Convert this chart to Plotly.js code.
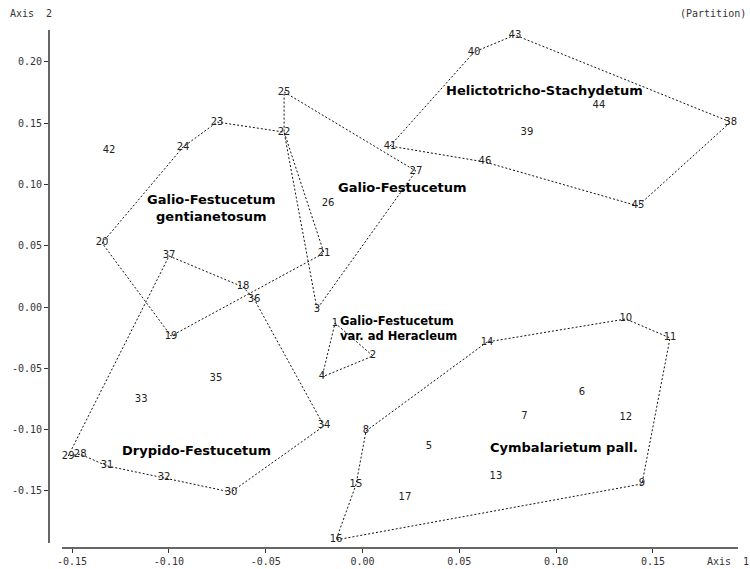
<!DOCTYPE html>
<html>
<head>
<meta charset="utf-8">
<script src="https://cdn.plot.ly/plotly-3.0.1.min.js"></script>
<style>html,body{margin:0;padding:0;background:#fff;}#chart{width:750px;height:569px;}</style>
</head>
<body>
<div id="chart"></div>
<script>
// Relevé numbers and their ordination scores
const releveIds = [1,2,3,4,5,6,7,8,9,10,11,12,13,14,15,16,17,18,19,20,21,22,23,24,25,26,27,28,29,30,31,32,33,34,35,36,37,38,39,40,41,42,43,44,45,46];
const axis1Scores = [-0.0142,0.0054,-0.0235,-0.0209,0.0343,0.1133,0.0836,0.0018,0.1443,0.1360,0.1588,0.1360,0.0689,0.0643,-0.0034,-0.0137,0.0219,-0.0617,-0.0989,-0.1345,-0.0199,-0.0405,-0.0751,-0.0927,-0.0405,-0.0178,0.0276,-0.1458,-0.1520,-0.0679,-0.1319,-0.1025,-0.1143,-0.0199,-0.0757,-0.0560,-0.0999,0.1901,0.0849,0.0576,0.0142,-0.1309,0.0787,0.1221,0.1422,0.0632];
const axis2Scores = [-0.0130,-0.0399,-0.0016,-0.0570,-0.1141,-0.0693,-0.0889,-0.1011,-0.1443,-0.0097,-0.0252,-0.0897,-0.1379,-0.0285,-0.1451,-0.1900,-0.1557,0.0164,-0.0236,0.0523,0.0441,0.1428,0.1510,0.1306,0.1755,0.0849,0.1110,-0.1200,-0.1216,-0.1510,-0.1296,-0.1394,-0.0757,-0.0970,-0.0586,0.0066,0.0417,0.1510,0.1428,0.2081,0.1314,0.1274,0.2220,0.1648,0.0825,0.1184];

// Partition outlines (relevé numbers, in drawing order)
const hullHelictotricho = [41,40,43,38,45,46,41];
const hullGalioFestucetum = [25,27,3,22,25];
const hullGentianetosum = [20,24,23,22,21,19,20];
const hullHeracleum = [1,2,4,1];
const hullDrypido = [29,37,18,36,34,30,32,31,28,29];
const hullCymbalarietum = [8,14,10,11,9,16,15,8];

// Community names and where they are written (data units)
const groupNames = ["Helictotricho-Stachydetum","Galio-Festucetum","Galio-Festucetum<br>gentianetosum","Galio-Festucetum<br>var. ad Heracleum","Drypido-Festucetum","Cymbalarietum pall."];
const groupX = [0.0942,0.0204,-0.0782,-0.0125,-0.0860,0.1040];
const groupY = [0.1770,0.0979,0.0808,-0.0172,-0.1167,-0.1143];

// Tick values and labels
const xTickVals = [-0.15,-0.10,-0.05,0.00,0.05,0.10,0.15];
const xTickText = ["-0.15","-0.10","-0.05","0.00","0.05","0.10","0.15"];
const yTickVals = [-0.15,-0.10,-0.05,0.00,0.05,0.10,0.15,0.20];
const yTickText = ["-0.15","-0.10","-0.05","0.00","0.05","0.10","0.15","0.20"];

function hullTrace(ids){
  return {
    type:'scatter', mode:'lines',
    x: ids.map(id => axis1Scores[releveIds.indexOf(id)]),
    y: ids.map(id => axis2Scores[releveIds.indexOf(id)]),
    line:{color:'#111', width:1, dash:'2px,2px'},
    hoverinfo:'skip', showlegend:false, cliponaxis:false
  };
}

const traces = [
  hullTrace(hullHelictotricho),
  hullTrace(hullGalioFestucetum),
  hullTrace(hullGentianetosum),
  hullTrace(hullHeracleum),
  hullTrace(hullDrypido),
  hullTrace(hullCymbalarietum),
  {
    type:'scatter', mode:'text',
    x: axis1Scores, y: axis2Scores,
    text: releveIds.map(String),
    textposition:'middle center',
    textfont:{family:'DejaVu Sans', size:10, color:'#222'},
    showlegend:false, cliponaxis:false, hoverinfo:'skip'
  }
];

const annotations = groupNames.map((name,i) => ({
  x: groupX[i], y: groupY[i], xref:'x', yref:'y',
  text: '<b>' + name + '</b>', showarrow:false,
  xanchor: i === 3 ? 'left' : 'center', yanchor:'middle',
  align: i === 3 ? 'left' : 'center',
  font:{family:'DejaVu Sans', size: i === 3 ? 11.5 : 13, color:'#000'}
}));
annotations.push(
  {x:-0.0595, y:1.0328, xref:'paper', yref:'paper', text:'Axis\u00a0\u00a02', showarrow:false, xanchor:'left', yanchor:'middle', font:{family:'DejaVu Sans Mono', size:10, color:'#333'}},
  {x:1.0145, y:1.0309, xref:'paper', yref:'paper', text:'(Partition)', showarrow:false, xanchor:'right', yanchor:'middle', font:{family:'DejaVu Sans Mono', size:10, color:'#333'}},
  {x:0.952, y:-0.027, xref:'paper', yref:'paper', text:'Axis\u00a0\u00a01', showarrow:false, xanchor:'left', yanchor:'middle', font:{family:'DejaVu Sans Mono', size:10, color:'#333'}}
);

const layout = {
  width:750, height:569,
  margin:{l:49, r:12, t:30, b:21, pad:0},
  paper_bgcolor:'#fff', plot_bgcolor:'#fff',
  showlegend:false,
  xaxis:{
    range:[-0.1552, 0.1939], domain:[0.01887, 1],
    anchor:'free', position:0,
    showgrid:false, zeroline:false,
    showline:true, linecolor:'#666', linewidth:2,
    ticks:'outside', ticklen:4, tickwidth:1, tickcolor:'#333',
    tickmode:'array', tickvals:xTickVals, ticktext:xTickText,
    tickfont:{family:'DejaVu Sans Mono', size:10, color:'#333'}
  },
  yaxis:{
    range:[-0.1925, 0.2261], domain:[0.00965, 1],
    anchor:'free', position:0,
    showgrid:false, zeroline:false,
    showline:true, linecolor:'#666', linewidth:2,
    ticks:'outside', ticklen:4, tickwidth:1, tickcolor:'#333',
    tickmode:'array', tickvals:yTickVals, ticktext:yTickText,
    tickfont:{family:'DejaVu Sans Mono', size:10, color:'#333'}
  },
  annotations: annotations
};

Plotly.newPlot('chart', traces, layout, {staticPlot:true, displayModeBar:false});
</script>
</body>
</html>
